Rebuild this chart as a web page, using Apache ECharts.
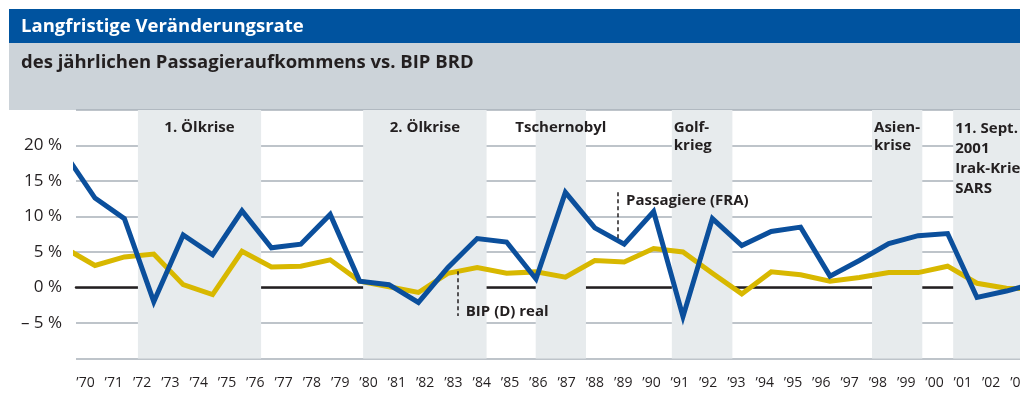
<!DOCTYPE html>
<html>
<head>
<meta charset="utf-8">
<script src="https://cdn.jsdelivr.net/npm/echarts@6/dist/echarts.min.js"></script>
<style>html,body{margin:0;padding:0;background:#fff}#c{width:1020px;height:405px}</style>
</head>
<body>
<div id="c"></div>
<script>
// ---- data ----
const years = [1970,1971,1972,1973,1974,1975,1976,1977,1978,1979,1980,1981,1982,1983,1984,1985,1986,1987,1988,1989,1990,1991,1992,1993,1994,1995,1996,1997,1998,1999,2000,2001,2002,2003];
const passengers = [18.7,12.6,9.7,-2.0,7.4,4.6,10.8,5.6,6.1,10.3,0.9,0.4,-2.1,2.8,6.9,6.4,1.2,13.4,8.4,6.1,10.7,-4.1,9.7,5.9,7.9,8.5,1.6,3.8,6.2,7.3,7.6,-1.4,-0.5,0.6];
const gdp = [5.5,3.1,4.3,4.7,0.4,-1.0,5.1,2.9,3.0,3.9,0.9,0.1,-0.7,2.0,2.8,2.0,2.2,1.45,3.8,3.6,5.5,5.0,2.0,-0.9,2.2,1.8,0.9,1.4,2.1,2.1,3.0,0.6,-0.1,-0.2];
const yearLabels = ["’70","’71","’72","’73","’74","’75","’76","’77","’78","’79","’80","’81","’82","’83","’84","’85","’86","’87","’88","’89","’90","’91","’92","’93","’94","’95","’96","’97","’98","’99","’00","’01","’02","’03"];
const yTickValues = [20,15,10,5,0,-5];
const yTickLabels = ['20 %','15 %','10 %','5 %','0 %','– 5 %'];
const eventNames = ['1. Ölkrise','2. Ölkrise','Tschernobyl','Golf-\nkrieg','Asien-\nkrise','11. Sept.\n2001\nIrak-Krieg\nSARS'];
const eventStart = [1972.46,1980.12,1985.99,1990.62,1997.43,2000.19];
const eventEnd   = [1976.65,1984.32,1987.70,1992.68,1999.14,2003.5];
const passengerNoteX = 1988.79, passengerNoteTop = 13.4, passengerNoteBottom = 6.6, passengerNoteTextY = 12.25;
const gdpNoteX = 1983.34, gdpNoteTop = 2.3, gdpNoteBottom = -4.0, gdpNoteTextY = -3.4;

// ---- styles / layout ----
const FONT = '"Open Sans", "Noto Sans", sans-serif';
const TXT = '#231f20';
const BLUE = '#0b4f9c';
const YELLOW = '#d8b800';
const eventLabelModes = ['center','center','center','left','left','left'];
const eventLineHeights = [18,18,18,18,18,20];

const yLabelMap = {};
yTickValues.forEach((v,i)=>{ yLabelMap[v] = yTickLabels[i]; });

const bandData = eventNames.map((name,i)=>{
  const left = eventLabelModes[i] === 'left';
  return [
    {xAxis: eventStart[i], name: name,
     label: {show:true, formatter: name, position: left ? 'insideTopLeft' : 'insideTop',
             distance: left ? 2 : 9, offset: left ? [0,7] : [0,0],
             align: left ? 'left' : 'center',
             color: TXT, fontFamily: FONT, fontSize: 15, fontWeight: 'bold',
             lineHeight: eventLineHeights[i]}},
    {xAxis: eventEnd[i]}
  ];
});

const chart = echarts.init(document.getElementById('c'), null, {renderer:'canvas'});
const option = {
  animation: false,
  textStyle: {fontFamily: FONT},
  graphic: {elements: [
    {type:'rect', shape:{x:9,y:9,width:1011,height:34}, style:{fill:'#00539f'}},
    {type:'rect', shape:{x:9,y:43,width:1011,height:67}, style:{fill:'#ccd3d9'}},
    {type:'text', left:21, top:17, style:{text:'Langfristige Veränderungsrate', fill:'#fff', font:'bold 18.5px ' + FONT}},
    {type:'text', left:21, top:53, style:{text:'des jährlichen Passagieraufkommens vs. BIP BRD', fill:TXT, font:'bold 18.5px ' + FONT}}
  ]},
  grid: [
    {left:76, right:0, top:110, bottom:46.5, containLabel:false, outerBoundsMode:'none'},
    {left:85.5, right:0.6, top:110, bottom:46.5, containLabel:false, outerBoundsMode:'none'}
  ],
  xAxis: [
    {type:'value', gridIndex:0, min:1970.354, max:2002.463,
     axisLine:{show:true, onZero:true, lineStyle:{color:TXT, width:2.5}},
     axisTick:{show:false}, axisLabel:{show:false}, splitLine:{show:false}},
    {type:'category', gridIndex:1, data:yearLabels, boundaryGap:false,
     axisLine:{show:false}, axisTick:{show:false},
     axisLabel:{interval:0, margin:18, fontSize:14, color:TXT, fontFamily:FONT, hideOverlap:false}}
  ],
  yAxis: [
    {type:'value', gridIndex:0, min:-10, max:25, interval:5,
     axisLine:{show:false}, axisTick:{show:false},
     splitLine:{lineStyle:{color:'#a9b1b8', width:1.5}},
     axisLabel:{margin:14, fontSize:17, color:TXT, fontFamily:FONT, padding:[5,0,0,0],
                formatter: v => (yLabelMap[v] !== undefined ? yLabelMap[v] : '')}},
    {type:'value', gridIndex:1, min:-10, max:25, show:false}
  ],
  series: [
    {name:'bands', type:'line', xAxisIndex:0, yAxisIndex:0, z:-1, silent:true,
     data: years.map((y,i)=>[y, gdp[i]]), showSymbol:false, lineStyle:{opacity:0},
     markArea:{silent:true, itemStyle:{color:'#e7ebed'}, data: bandData}},
    {name:'BIP (D) real', type:'line', xAxisIndex:0, yAxisIndex:0, z:3,
     data: years.map((y,i)=>[y, gdp[i]]), showSymbol:false, symbol:'none',
     lineStyle:{color:YELLOW, width:5, join:'miter'}},
    {name:'Passagiere (FRA)', type:'line', xAxisIndex:0, yAxisIndex:0, z:4,
     data: years.map((y,i)=>[y, passengers[i]]), showSymbol:false, symbol:'none',
     lineStyle:{color:BLUE, width:5, join:'miter'},
     markLine:{silent:true, symbol:['none','none'], label:{show:false},
       lineStyle:{color:TXT, width:1.5, type:[4,3]},
       data:[
         [{coord:[passengerNoteX, passengerNoteTop]},{coord:[passengerNoteX, passengerNoteBottom]}],
         [{coord:[gdpNoteX, gdpNoteTop]},{coord:[gdpNoteX, gdpNoteBottom]}]
       ]},
     markPoint:{silent:true, symbol:'circle', symbolSize:0,
       label:{show:true, position:'right', distance:8, color:TXT, fontFamily:FONT, fontSize:15, fontWeight:'bold'},
       data:[
         {coord:[passengerNoteX, passengerNoteTextY], label:{formatter:'Passagiere (FRA)'}},
         {coord:[gdpNoteX, gdpNoteTextY], label:{formatter:'BIP (D) real'}}
       ]}}
  ]
};
chart.setOption(option);
</script>
</body>
</html>
